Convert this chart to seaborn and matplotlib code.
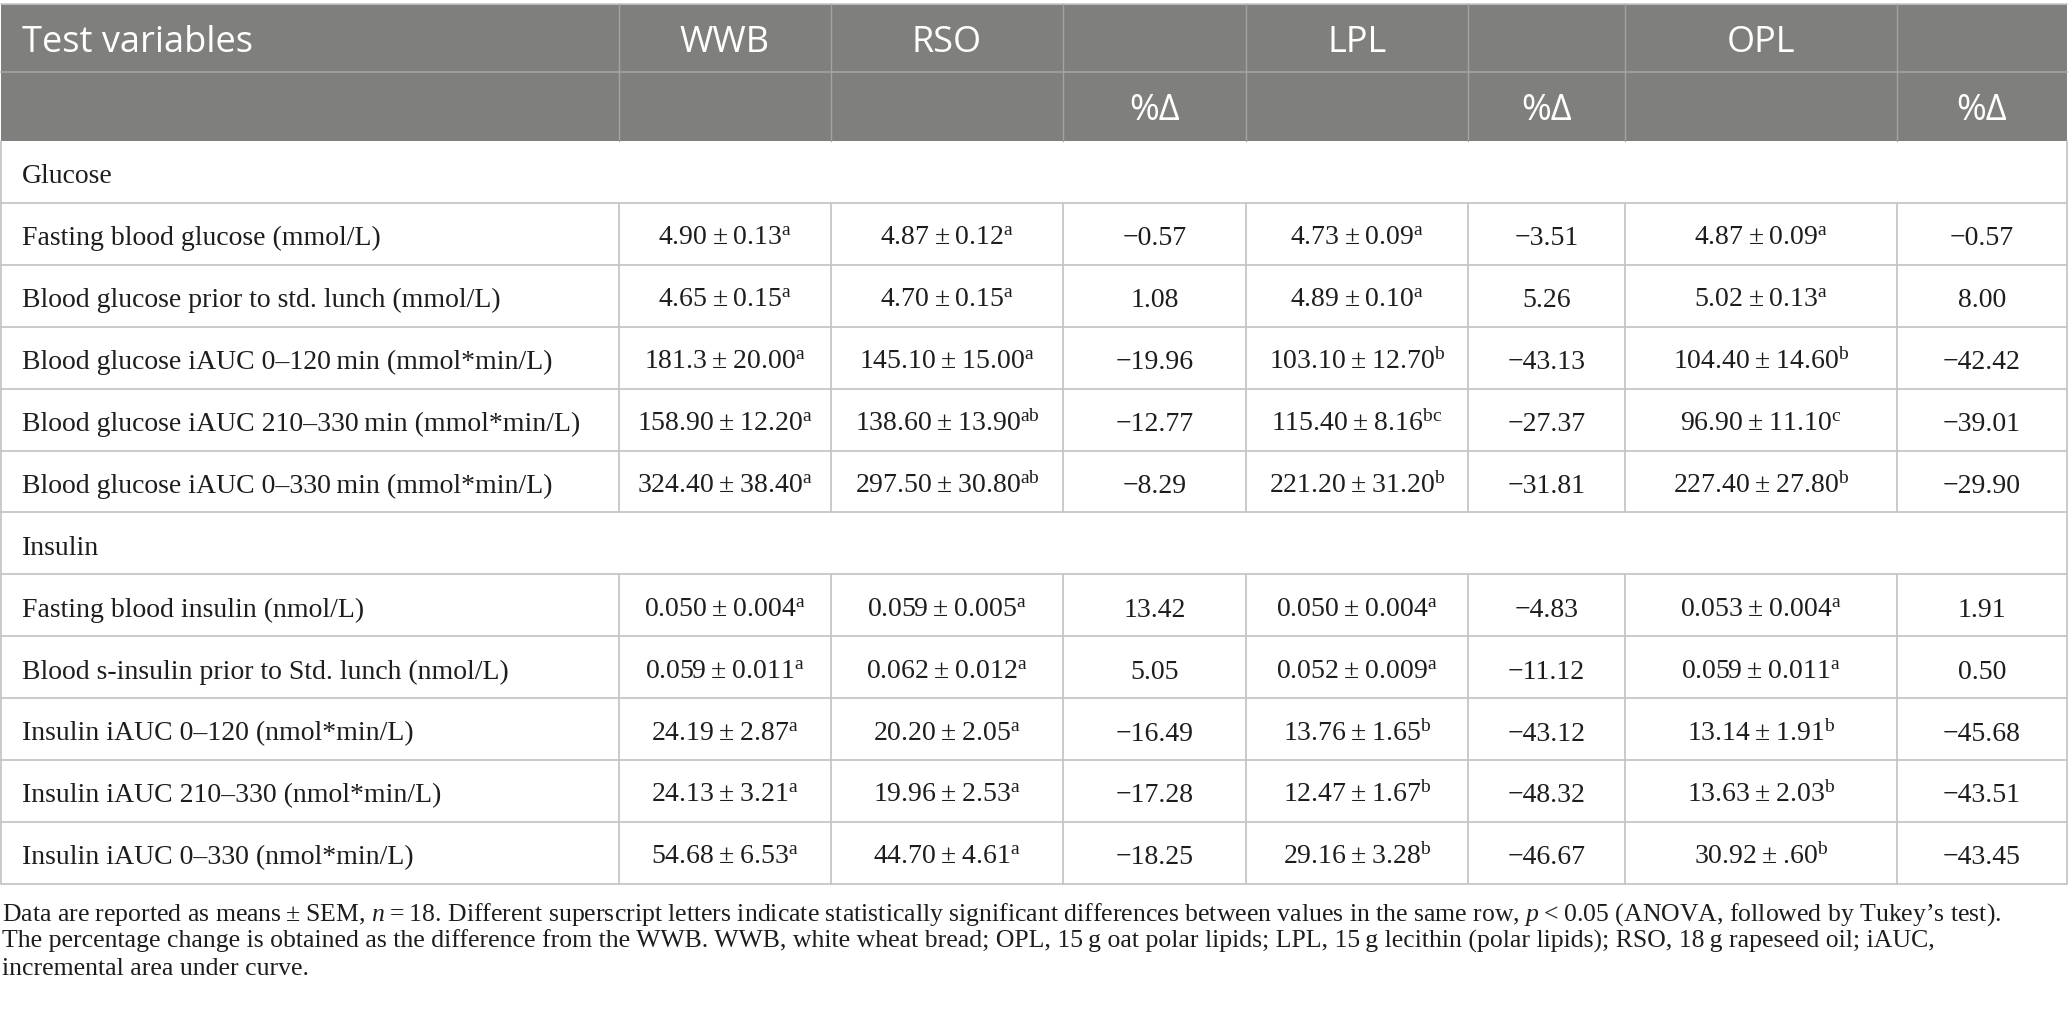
import matplotlib
matplotlib.use("Agg")
import matplotlib.pyplot as plt
import seaborn as sns

# ---- table content ----
header_top = ["Test variables", "WWB", "RSO", "", "LPL", "", "OPL", ""]
header_sub = ["", "", "", "%Δ", "", "%Δ", "", "%Δ"]

sections = ["Glucose", "Insulin"]
glucose_labels = [
    "Fasting blood glucose (mmol/L)",
    "Blood glucose prior to std. lunch (mmol/L)",
    "Blood glucose iAUC 0–120\u2009min (mmol*min/L)",
    "Blood glucose iAUC 210–330\u2009min (mmol*min/L)",
    "Blood glucose iAUC 0–330\u2009min (mmol*min/L)",
]
insulin_labels = [
    "Fasting blood insulin (nmol/L)",
    "Blood s-insulin prior to Std. lunch (nmol/L)",
    "Insulin iAUC 0–120 (nmol*min/L)",
    "Insulin iAUC 210–330 (nmol*min/L)",
    "Insulin iAUC 0–330 (nmol*min/L)",
]

wwb_mean = ["4.90", "4.65", "181.3", "158.90", "324.40", "0.050", "0.059", "24.19", "24.13", "54.68"]
wwb_sem = ["0.13", "0.15", "20.00", "12.20", "38.40", "0.004", "0.011", "2.87", "3.21", "6.53"]
wwb_sig = ["a", "a", "a", "a", "a", "a", "a", "a", "a", "a"]

rso_mean = ["4.87", "4.70", "145.10", "138.60", "297.50", "0.059", "0.062", "20.20", "19.96", "44.70"]
rso_sem = ["0.12", "0.15", "15.00", "13.90", "30.80", "0.005", "0.012", "2.05", "2.53", "4.61"]
rso_sig = ["a", "a", "a", "ab", "ab", "a", "a", "a", "a", "a"]
rso_pct = [-0.57, 1.08, -19.96, -12.77, -8.29, 13.42, 5.05, -16.49, -17.28, -18.25]

lpl_mean = ["4.73", "4.89", "103.10", "115.40", "221.20", "0.050", "0.052", "13.76", "12.47", "29.16"]
lpl_sem = ["0.09", "0.10", "12.70", "8.16", "31.20", "0.004", "0.009", "1.65", "1.67", "3.28"]
lpl_sig = ["a", "a", "b", "bc", "b", "a", "a", "b", "b", "b"]
lpl_pct = [-3.51, 5.26, -43.13, -27.37, -31.81, -4.83, -11.12, -43.12, -48.32, -46.67]

opl_mean = ["4.87", "5.02", "104.40", "96.90", "227.40", "0.053", "0.059", "13.14", "13.63", "30.92"]
opl_sem = ["0.09", "0.13", "14.60", "11.10", "27.80", "0.004", "0.011", "1.91", "2.03", ".60"]
opl_sig = ["a", "a", "b", "c", "b", "a", "a", "b", "b", "b"]
opl_pct = [-0.57, 8.00, -42.42, -39.01, -29.90, 1.91, 0.50, -45.68, -43.51, -43.45]

footnote = [
    "Data are reported as means\u2009±\u2009SEM, $n$\u2009=\u200918. Different superscript letters indicate statistically "
    "significant differences between values in the same row, $p$\u2009<\u20090.05 (ANOVA, followed by Tukey’s test).",
    "The percentage change is obtained as the difference from the WWB. WWB, white wheat bread; OPL, 15\u2009g oat polar "
    "lipids; LPL, 15\u2009g lecithin (polar lipids); RSO, 18\u2009g rapeseed oil; iAUC,",
    "incremental area under curve.",
]


def fmt_val(mean, sem, sig):
    return mean + "\u2009±\u2009" + sem + r"$^{\mathrm{" + sig + "}}$"


def fmt_pct(v):
    return f"{v:.2f}".replace("-", "\u2212")


sns.set_theme(style="white")
plt.rcParams["mathtext.fontset"] = "custom"
plt.rcParams["mathtext.rm"] = "Liberation Serif"
plt.rcParams["mathtext.it"] = "Liberation Serif:italic"

HEAD_BG = "#7f807e"
HEAD_LINE = "#a3a4a2"
GRID = "#c6c6c6"
INK = "#1f1c1d"
SERIF = "Liberation Serif"
SANS = "Open Sans"

W, H = 2068, 1011
fig = plt.figure(figsize=(W / 100, H / 100), dpi=100)
ax = fig.add_axes([0, 0, 1, 1])
ax.set_xlim(0, W)
ax.set_ylim(H, 0)
ax.axis("off")

col_edges = [1, 619, 831, 1063, 1246, 1468, 1625, 1897, 2067]
head_edges = [4, 72, 141]
row_h = 61.9
n_rows = 12
body_top = head_edges[-1]
row_edges = [body_top + i * row_h for i in range(n_rows + 1)]

# header background
ax.fill_between([col_edges[0], col_edges[-1]], head_edges[0], head_edges[-1], color=HEAD_BG, lw=0)
ax.plot([col_edges[0], col_edges[-1]], [head_edges[0], head_edges[0]], color="#c8c8c8", lw=1.2)
ax.plot([col_edges[0], col_edges[-1]], [head_edges[1], head_edges[1]], color=HEAD_LINE, lw=1.2)
for x in col_edges[1:-1]:
    ax.plot([x, x], [head_edges[0], head_edges[-1]], color=HEAD_LINE, lw=1.0)

for i, txt in enumerate(header_top):
    if not txt:
        continue
    yb = (head_edges[0] + head_edges[1]) / 2 + 13.5
    if i == 0:
        ax.text(22, yb, txt, fontsize=26, family=SANS, color="white", va="baseline", ha="left")
    else:
        ax.text((col_edges[i] + col_edges[i + 1]) / 2, yb, txt, fontsize=26, family=SANS,
                color="white", va="baseline", ha="center")
for i, txt in enumerate(header_sub):
    if not txt:
        continue
    yb = (head_edges[1] + head_edges[2]) / 2 + 14
    ax.text((col_edges[i] + col_edges[i + 1]) / 2, yb, txt, fontsize=26, family=SANS,
            color="white", va="baseline", ha="center")

# body rows
row_items = []
k = 0
for s, group in zip(sections, [glucose_labels, insulin_labels]):
    row_items.append(("section", s, None))
    for lab in group:
        row_items.append(("data", lab, k))
        k += 1

for r, (kind, lab, idx) in enumerate(row_items):
    top, bot = row_edges[r], row_edges[r + 1]
    yb = (top + bot) / 2 + 11.5
    ax.plot([col_edges[0], col_edges[-1]], [bot, bot], color=GRID, lw=1.3)
    ax.plot([col_edges[0], col_edges[0]], [top, bot], color=GRID, lw=1.3)
    ax.plot([col_edges[-1], col_edges[-1]], [top, bot], color=GRID, lw=1.3)
    ax.text(22, yb, lab, fontsize=20, family=SERIF, color=INK, va="baseline", ha="left")
    if kind == "section":
        continue
    for x in col_edges[1:-1]:
        ax.plot([x, x], [top, bot], color=GRID, lw=1.3)
    cells = [
        fmt_val(wwb_mean[idx], wwb_sem[idx], wwb_sig[idx]),
        fmt_val(rso_mean[idx], rso_sem[idx], rso_sig[idx]),
        fmt_pct(rso_pct[idx]),
        fmt_val(lpl_mean[idx], lpl_sem[idx], lpl_sig[idx]),
        fmt_pct(lpl_pct[idx]),
        fmt_val(opl_mean[idx], opl_sem[idx], opl_sig[idx]),
        fmt_pct(opl_pct[idx]),
    ]
    for c, txt in enumerate(cells, start=1):
        ax.text((col_edges[c] + col_edges[c + 1]) / 2, yb, txt, fontsize=20, family=SERIF,
                color=INK, va="baseline", ha="center")

# footnote
for i, line in enumerate(footnote):
    ax.text(2, 921 + 27 * i, line, fontsize=18.5, family=SERIF, color=INK,
            va="baseline", ha="left")

fig.savefig("out.png", dpi=100, facecolor="white")
